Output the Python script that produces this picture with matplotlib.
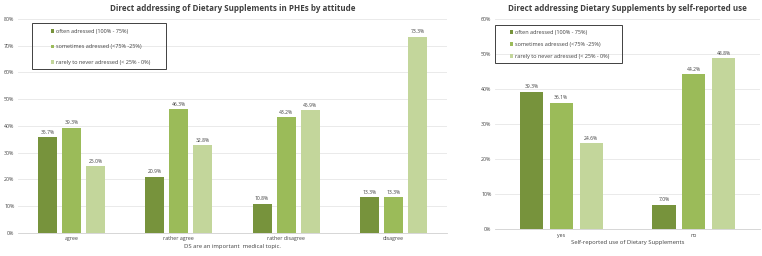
import numpy as np
import matplotlib.pyplot as plt
from matplotlib.patches import Rectangle
from matplotlib.ticker import PercentFormatter

# data (percent)
att_cats = ["agree", "rather agree", "rather disagree", "disagree"]
att_often = [35.7, 20.9, 10.8, 13.3]
att_sometimes = [39.3, 46.3, 43.2, 13.3]
att_rarely = [25.0, 32.8, 45.9, 73.3]

use_cats = ["yes", "no"]
use_often = [39.3, 7.0]
use_sometimes = [36.1, 44.2]
use_rarely = [24.6, 48.8]

labels = ["often adressed (100% - 75%)",
          "sometimes adressed (<75% -25%)",
          "rarely to never adressed (< 25% - 0%)"]
colors = ["#77933C", "#9BBB59", "#C3D69B"]

plt.rcParams["font.family"] = ["Open Sans", "DejaVu Sans"]
fig = plt.figure(figsize=(7.62, 2.56), dpi=100)


def panel(ax, cats, series, ymax, title, xlabel, width, step, leg_anchor, box, spacing):
    x = np.arange(len(cats))
    for i, (vals, c, lab) in enumerate(zip(series, colors, labels)):
        bars = ax.bar(x + (i - 1) * step, vals, width, color=c, label=lab, zorder=3)
        for b, v in zip(bars, vals):
            ax.text(b.get_x() + b.get_width() / 2, v + ymax * 0.012, f"{v:.1f}%",
                    ha="center", va="bottom", fontsize=3.6, color="#404040")
    ax.set_xlim(-0.5, len(cats) - 0.5)
    ax.set_ylim(0, ymax)
    ax.set_yticks(np.arange(0, ymax + 1, 10))
    ax.yaxis.set_major_formatter(PercentFormatter(decimals=0))
    ax.set_xticks(x)
    ax.set_xticklabels(cats)
    ax.tick_params(length=0, labelsize=3.8, colors="#404040", pad=2.5)
    ax.grid(axis="y", color="#E6E6E6", lw=0.6, zorder=0)
    for s in ["top", "right", "left"]:
        ax.spines[s].set_visible(False)
    ax.spines["bottom"].set_color("#D0D0D0")
    ax.spines["bottom"].set_linewidth(0.6)
    ax.set_title(title, fontsize=5.8, fontweight="bold", color="#404040", pad=6)
    ax.set_xlabel(xlabel, fontsize=4.2, color="#404040", labelpad=2)
    leg = ax.legend(loc="upper left", bbox_to_anchor=leg_anchor, fontsize=4.0,
                    handlelength=0.6, handleheight=0.6, handletextpad=0.3,
                    labelspacing=spacing, borderpad=0, borderaxespad=0,
                    frameon=False)
    for t in leg.get_texts():
        t.set_color("#404040")
    x0, y0, x1, y1 = box
    ax.add_patch(Rectangle((x0, y0), x1 - x0, y1 - y0, transform=ax.transAxes,
                           fill=False, edgecolor="#404040", lw=0.7, zorder=5,
                           clip_on=False))


ax1 = fig.add_axes([0.0236, 0.090, 0.563, 0.836])
panel(ax1, att_cats, [att_often, att_sometimes, att_rarely], 80,
      "Direct addressing of Dietary Supplements in PHEs by attitude",
      "DS are an important  medical topic.", 0.177, 0.224,
      (0.077, 0.952), (0.033, 0.766, 0.345, 0.981), 1.85)

ax2 = fig.add_axes([0.6496, 0.105, 0.348, 0.820])
panel(ax2, use_cats, [use_often, use_sometimes, use_rarely], 60,
      "Direct addressing Dietary Supplements by self-reported use",
      "Self-reported use of Dietary Supplements", 0.175, 0.226,
      (0.055, 0.95), (0.0, 0.79, 0.479, 0.971), 1.3)

fig.savefig("out.png", dpi=100, facecolor="white")
